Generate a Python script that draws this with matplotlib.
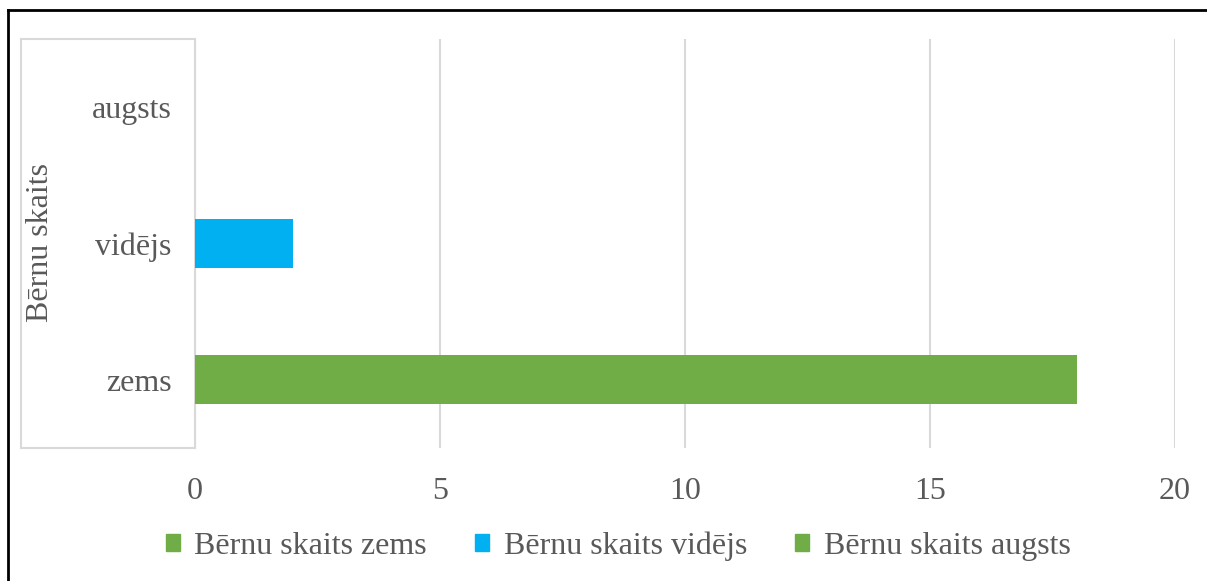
import matplotlib
matplotlib.use("Agg")
import matplotlib.pyplot as plt
from matplotlib.lines import Line2D

categories = ["zems", "vidējs", "augsts"]
series_names = ["Bērnu skaits zems", "Bērnu skaits vidējs", "Bērnu skaits augsts"]
series_values = [
    [18, 0, 0],
    [0, 2, 0],
    [0, 0, 0],
]
series_colors = ["#70AD47", "#00B0F0", "#70AD47"]
xticks = [0, 5, 10, 15, 20]
ylabel = "Bērnu skaits"

plt.rcParams['font.family'] = ['Liberation Serif', 'DejaVu Serif']
W, H = 1207, 581
fig = plt.figure(figsize=(W / 100, H / 100), dpi=100)

def fx(px): return px / W
def fy(py): return 1 - py / H

FS = 23
ax = fig.add_axes([fx(195), fy(448), fx(1175) - fx(195), fy(39) - fy(448)])
pos = list(range(len(categories)))
handles = []
for name, vals, col in zip(series_names, series_values, series_colors):
    ax.barh(pos, vals, height=0.36, color=col, zorder=3)
    handles.append(plt.Rectangle((0, 0), 1, 1, color=col, label=name))

ax.set_xlim(0, 20)
ax.set_ylim(-0.5, 2.5)
ax.set_xticks(xticks)
ax.set_xticklabels([str(t) for t in xticks])
ax.set_yticks(pos)
ax.set_yticklabels(categories)
ax.tick_params(axis='both', length=0, labelsize=FS, labelcolor="#595959")
ax.tick_params(axis='x', pad=21)
ax.tick_params(axis='y', pad=17)
ax.grid(axis='x', color="#D9D9D9", linewidth=1.5, zorder=0)
for s in ["top", "right", "bottom"]:
    ax.spines[s].set_visible(False)
ax.spines["left"].set_color("#D9D9D9")
ax.spines["left"].set_linewidth(1.5)

# category axis box lines
gray = "#D9D9D9"
fig.add_artist(Line2D([fx(21), fx(21)], [fy(39), fy(448)], color=gray, lw=1.5))
fig.add_artist(Line2D([fx(21), fx(195)], [fy(39), fy(39)], color=gray, lw=1.5))
fig.add_artist(Line2D([fx(21), fx(195)], [fy(448), fy(448)], color=gray, lw=1.5))

fig.text(fx(41), fy(243), ylabel, rotation=90, ha='center', va='center',
         fontsize=FS, color="#595959")

# outer border
fig.add_artist(Line2D([fx(8), fx(8)], [fy(10), 0], color="black", lw=2))
fig.add_artist(Line2D([fx(8), 1], [fy(10), fy(10)], color="black", lw=2))

leg = fig.legend(handles=handles, loc='center', bbox_to_anchor=(fx(618), fy(546)),
                 ncol=3, frameon=False, fontsize=FS, handlelength=0.45, handleheight=0.45,
                 handletextpad=0.45, columnspacing=1.5)
for t in leg.get_texts():
    t.set_color("#595959")

fig.savefig("out.png", dpi=100)
